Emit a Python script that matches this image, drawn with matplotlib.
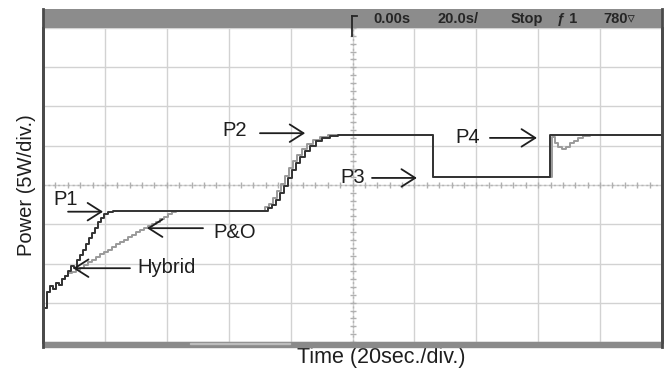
import matplotlib
matplotlib.use("Agg")
import matplotlib.pyplot as plt
from matplotlib.patches import Rectangle
from matplotlib.lines import Line2D
import numpy as np

plt.rcParams['font.family'] = ['Liberation Sans', 'DejaVu Sans']

# Scope settings: 20 s/div horizontally (10 div), 5 W/div vertically (8 div)
SEC_PER_DIV = 20
W_PER_DIV = 5
N_XDIV = 10
N_YDIV = 8

# Hybrid MPPT trace (time in s, power in W), sampled as steps
hybrid_t = [0, 1.3, 2.3, 3.2, 4.2, 5.2, 6.1, 7.1, 8.1, 9.0,
            10.0, 11.0, 12.0, 12.9, 13.9, 14.9, 15.8, 16.8, 17.8, 18.7,
            19.7, 21.0, 22.6,
            72.7, 74.0, 75.3, 76.6, 77.9, 79.2, 80.5, 81.7, 83.0, 84.7,
            86.3, 88.2, 90.1, 92.7, 95.3,
            126.0, 163.8, 200.0]
hybrid_p = [4.3, 6.4, 7.1, 6.8, 7.5, 7.3, 8.0, 8.4, 9.0, 9.7,
            9.4, 10.5, 11.1, 11.7, 12.5, 13.3, 13.9, 14.5, 15.3, 15.8,
            16.3, 16.6, 16.7,
            17.1, 17.5, 18.1, 19.0, 19.9, 20.9, 21.9, 22.8, 23.6, 24.3,
            25.0, 25.6, 26.0, 26.2, 26.4,
            21.0, 26.4, 26.4]

# Perturb & Observe trace
po_t = [0, 1.3, 2.3, 3.2, 4.2, 5.2, 6.1, 7.1, 8.1,
        9.4, 10.7, 12.0, 13.2, 14.5, 15.8, 17.1, 18.4, 19.7, 21.0,
        22.3, 23.6, 24.9, 26.2, 27.5, 28.8, 30.0, 31.3, 32.6, 33.9,
        35.2, 36.5, 37.8, 39.1, 40.4, 41.7, 43.0,
        71.7, 73.0, 74.3, 75.6, 76.9, 78.2, 79.5, 80.8, 82.1, 83.7,
        85.3, 87.2, 89.5, 92.1,
        126.0,
        164.5, 165.4, 166.4, 167.7, 169.0, 170.3, 171.6, 172.9, 174.5, 176.7,
        200.0]
po_p = [4.3, 6.4, 7.1, 6.8, 7.5, 7.3, 8.0, 8.4, 8.8,
        8.9, 9.2, 9.4, 9.8, 10.2, 10.4, 10.8, 11.2, 11.5, 11.7,
        12.1, 12.5, 12.7, 13.0, 13.4, 13.6, 14.0, 14.3, 14.5, 14.8,
        15.0, 15.3, 15.7, 15.9, 16.3, 16.6, 16.7,
        17.2, 17.6, 18.3, 19.2, 20.1, 21.1, 22.2, 23.1, 23.8, 24.6,
        25.2, 25.7, 26.1, 26.4,
        21.0,
        26.1, 25.4, 24.8, 24.6, 24.9, 25.3, 25.6, 26.0, 26.2, 26.4,
        26.4]

# Scope status line
status_texts = ["0.00s", "20.0s/", "Stop", "\u0192 1", "780\u25bf"]
status_x = [0.533, 0.638, 0.755, 0.830, 0.905]

W, H = 666, 375
fig = plt.figure(figsize=(W / 100, H / 100), dpi=100)
fig.patch.set_facecolor('white')

ax_left, ax_right, ax_top, ax_bot = 43, 662, 28, 342
ax = fig.add_axes([ax_left / W, 1 - ax_bot / H, (ax_right - ax_left) / W,
                   (ax_bot - ax_top) / H])
ax.set_xlim(0, N_XDIV * SEC_PER_DIV)
ax.set_ylim(0, N_YDIV * W_PER_DIV)
ax.set_xticks(np.arange(0, N_XDIV * SEC_PER_DIV + 1, SEC_PER_DIV))
ax.set_yticks(np.arange(0, N_YDIV * W_PER_DIV + 1, W_PER_DIV))
ax.tick_params(length=0, labelbottom=False, labelleft=False)
ax.grid(True, color='#d2d2d2', lw=1.0)
ax.set_axisbelow(True)
for s in ('top', 'bottom'):
    ax.spines[s].set_visible(False)
for s in ('left', 'right'):
    ax.spines[s].set_color('#4a4a4a')
    ax.spines[s].set_linewidth(2.0)

# Centre graticule lines with minor ticks
xc = N_XDIV * SEC_PER_DIV / 2
yc = N_YDIV * W_PER_DIV / 2
ax.axhline(yc, color='#b5b5b5', lw=1.0, ls=(0, (1.5, 2)), zorder=1)
ax.axvline(xc, color='#b5b5b5', lw=1.0, ls=(0, (1.5, 2)), zorder=1)
ax.plot(np.arange(0, N_XDIV * SEC_PER_DIV + 0.1, SEC_PER_DIV / 5),
        np.full(N_XDIV * 5 + 1, yc), ls='none', marker='|', ms=4,
        color='#b0b0b0', mew=1.0, zorder=1)
ax.plot(np.full(N_YDIV * 5 + 1, xc),
        np.arange(0, N_YDIV * W_PER_DIV + 0.1, W_PER_DIV / 5), ls='none',
        marker='_', ms=4, color='#b0b0b0', mew=1.0, zorder=1)

# Traces
ax.plot(po_t, po_p, drawstyle='steps-post', color='#9a9a9a', lw=1.4, zorder=3)
ax.plot(hybrid_t, hybrid_p, drawstyle='steps-post', color='#333333', lw=1.4,
        zorder=4)

# Labels with arrows
lab_fs = 14.5
arrow = dict(arrowstyle='->,head_length=0.55,head_width=0.35', lw=1.3,
             color='#1e1e1e', shrinkA=0, shrinkB=0, mutation_scale=18)
labels = [
    # text, text pos, arrow tail, arrow tip
    ("P1", (3.2, 18.1), (8.1, 16.6), (19.4, 16.6)),
    ("P&O", (54.9, 14.0), (51.7, 14.5), (33.6, 14.5)),
    ("Hybrid", (30.4, 9.55), (28.1, 9.4), (9.7, 9.4)),
    ("P2", (57.8, 26.9), (70.1, 26.6), (84.7, 26.6)),
    ("P3", (96.0, 20.9), (106.3, 20.9), (120.8, 20.9)),
    ("P4", (133.1, 26.0), (144.4, 26.0), (159.6, 26.0)),
]
for txt, tpos, tail, tip in labels:
    ax.text(tpos[0], tpos[1], txt, fontsize=lab_fs, color='#1e1e1e',
            ha='left', va='center', zorder=6)
    ax.annotate('', xy=tip, xytext=tail, arrowprops=arrow, zorder=6)

# Status bar on top
bar = fig.add_axes([ax_left / W, 1 - ax_top / H, (ax_right - ax_left) / W,
                    19 / H])
bar.set_facecolor('#8c8c8c')
bar.set_xlim(0, 1)
bar.set_ylim(0, 1)
bar.set_xticks([])
bar.set_yticks([])
for s in bar.spines.values():
    s.set_visible(False)
for t, x in zip(status_texts, status_x):
    bar.text(x, 0.45, t, fontsize=10.5, fontweight='bold', color='#262626',
             ha='left', va='center', family=['Liberation Sans', 'DejaVu Sans'])
# trigger marker
bar.plot([0.499, 0.499], [-0.4, 0.62], color='#262626', lw=1.3,
         clip_on=False)
bar.plot([0.499, 0.507], [0.62, 0.62], color='#262626', lw=1.3)

# Bottom bar
fig.patches.append(Rectangle((ax_left / W, 1 - 347 / H),
                             (ax_right - ax_left) / W, 5 / H,
                             transform=fig.transFigure, color='#8a8a8a',
                             zorder=5))
fig.patches.append(Rectangle((190 / W, 1 - 344 / H), 100 / W, 1.2 / H,
                             transform=fig.transFigure, color='#bdbdbd',
                             zorder=6))
# Frame sides over the bars
for xp in (ax_left, ax_right):
    fig.lines.append(Line2D([xp / W, xp / W], [1 - 347 / H, 1 - 9 / H],
                            transform=fig.transFigure, color='#4a4a4a',
                            lw=2.0, zorder=7))

# Axis titles
fig.text(26 / W, 1 - 185 / H, 'Power (5W/div.)', rotation=90, fontsize=14.5,
         color='#1e1e1e', ha='center', va='center')
fig.text(381 / W, 1 - 358 / H, 'Time (20sec./div.)', fontsize=15.5,
         color='#1e1e1e', ha='center', va='center')

fig.savefig('out.png', dpi=100)
